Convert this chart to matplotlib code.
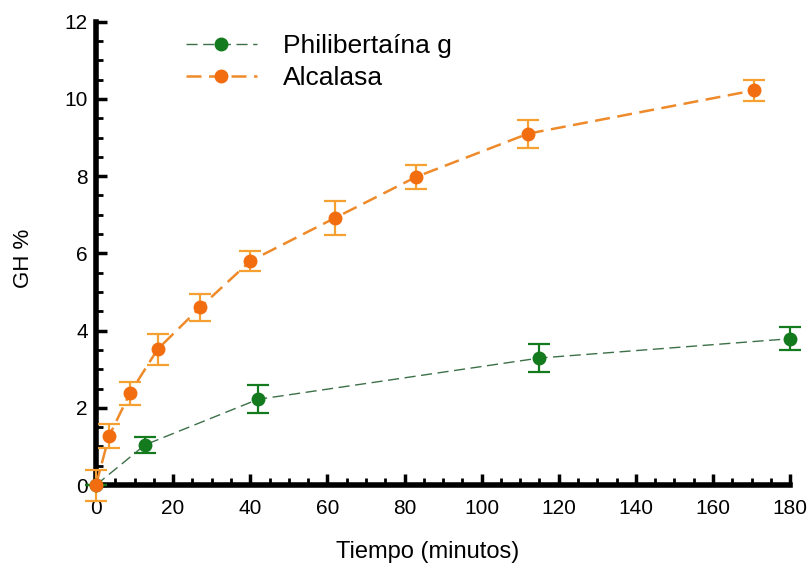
import matplotlib
matplotlib.use("Agg")
import matplotlib.pyplot as plt
from matplotlib.ticker import MultipleLocator

plt.rcParams['font.family'] = ['Liberation Sans', 'DejaVu Sans']

# Philibertaína g
t_phil = [0, 12.7, 42, 115, 180]
gh_phil = [0, 1.04, 2.22, 3.29, 3.79]
err_phil = [0, 0.2, 0.36, 0.37, 0.3]

# Alcalasa
t_alc = [0, 3.4, 8.8, 16, 27, 40, 62, 83, 112, 170.5]
gh_alc = [0, 1.27, 2.38, 3.52, 4.6, 5.8, 6.92, 7.98, 9.1, 10.22]
err_alc = [0.4, 0.3, 0.3, 0.4, 0.35, 0.25, 0.45, 0.3, 0.36, 0.27]

fig = plt.figure(figsize=(8.1, 5.72), dpi=100)
ax = fig.add_axes([0.1185, 0.152, 0.857, 0.81])

# error bars (kept out of the legend)
ax.errorbar(t_phil, gh_phil, yerr=err_phil, fmt='none', ecolor='#137A1E',
            elinewidth=1.6, capsize=8, capthick=1.6, clip_on=False, zorder=3)
ax.errorbar(t_alc, gh_alc, yerr=err_alc, fmt='none', ecolor='#F5A030',
            elinewidth=1.6, capsize=8, capthick=1.6, clip_on=False, zorder=4)

ax.plot(t_phil, gh_phil, color='#3C7048', ls=(0, (8, 4)), lw=1.0,
        marker='o', ms=9, mfc='#137A1E', mec='#137A1E',
        label='Philibertaína g', clip_on=False, zorder=5)
ax.plot(t_alc, gh_alc, color='#EE8A2A', ls=(0, (6, 3)), lw=1.8,
        marker='o', ms=9, mfc='#F26D10', mec='#F26D10',
        label='Alcalasa', clip_on=False, zorder=6)

ax.set_xlim(0, 180)
ax.set_ylim(0, 12)
ax.xaxis.set_major_locator(MultipleLocator(20))
ax.xaxis.set_minor_locator(MultipleLocator(5))
ax.yaxis.set_major_locator(MultipleLocator(2))
ax.yaxis.set_minor_locator(MultipleLocator(0.5))

ax.spines['top'].set_visible(False)
ax.spines['right'].set_visible(False)
ax.spines['left'].set_linewidth(4)
ax.spines['bottom'].set_linewidth(4)
ax.tick_params(which='major', direction='in', length=8, width=2.5, labelsize=15, pad=6)
ax.tick_params(axis='x', which='major', pad=10)
ax.tick_params(which='minor', direction='in', length=5, width=2)

ax.set_xlabel('Tiempo (minutos)', fontsize=17)
ax.xaxis.set_label_coords(0.478, -0.121)
ax.set_ylabel('GH %', fontsize=16)
ax.yaxis.set_label_coords(-0.089, 0.49)

ax.legend(loc='upper left', bbox_to_anchor=(0.095, 1.024), frameon=False, fontsize=19,
          handlelength=2.7, handletextpad=1.0, labelspacing=0.3, numpoints=1)

fig.savefig('out.png', dpi=100)
